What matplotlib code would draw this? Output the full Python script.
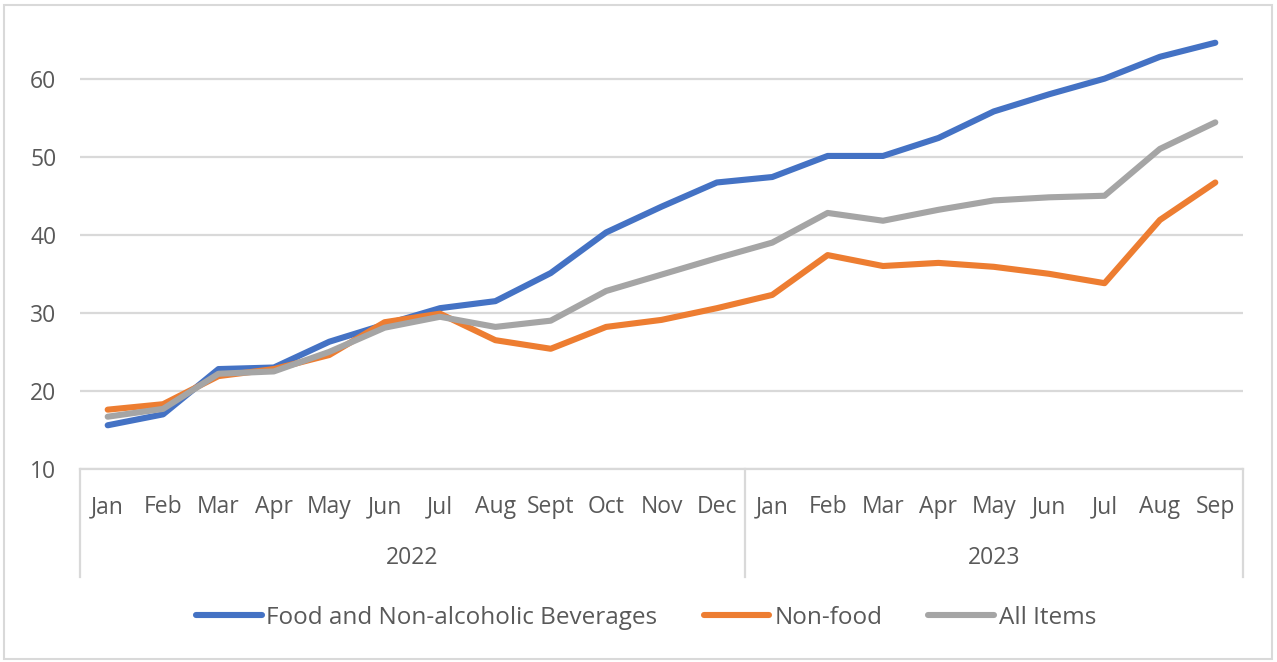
import matplotlib
matplotlib.use("Agg")
import matplotlib.pyplot as plt
import matplotlib.transforms as mtrans
from matplotlib.patches import Rectangle

# Data
months = ["Jan", "Feb", "Mar", "Apr", "May", "Jun", "Jul", "Aug", "Sept", "Oct", "Nov", "Dec",
          "Jan", "Feb", "Mar", "Apr", "May", "Jun", "Jul", "Aug", "Sep"]
years = ["2022", "2023"]
year_lengths = [12, 9]
food = [15.6, 17.0, 22.8, 23.0, 26.3, 28.5, 30.6, 31.5, 35.1, 40.3, 43.6, 46.7,
        47.4, 50.1, 50.1, 52.4, 55.8, 58.0, 60.0, 62.8, 64.6]
non_food = [17.6, 18.3, 21.9, 22.8, 24.6, 28.8, 29.9, 26.5, 25.4, 28.2, 29.1, 30.6,
            32.3, 37.4, 36.0, 36.4, 35.9, 35.0, 33.8, 41.9, 46.7]
all_items = [16.7, 17.7, 22.2, 22.5, 25.0, 28.1, 29.5, 28.2, 29.0, 32.8, 34.9, 37.0,
             39.0, 42.8, 41.8, 43.2, 44.4, 44.8, 45.0, 51.0, 54.4]
series_names = ["Food and Non-alcoholic Beverages", "Non-food", "All Items"]

colors = ["#4472C4", "#ED7D31", "#A5A5A5"]
txt = "#595959"
grid_c = "#D9D9D9"
fs = 16.5

plt.rcParams['font.family'] = ['Open Sans', 'DejaVu Sans']

W, H = 1277, 662
fig = plt.figure(figsize=(W / 100, H / 100), dpi=100)
fig.patches.append(Rectangle((4 / W, 3 / H), 1 - 9 / W, 1 - 8 / H, transform=fig.transFigure,
                             fill=False, edgecolor="#D9D9D9", linewidth=1.5))

left, right, top, bottom = 80, 1243, 24, 469
ax = fig.add_axes([left / W, 1 - bottom / H, (right - left) / W, (bottom - top) / H])

x = list(range(len(months)))
for vals, name, c in zip([food, non_food, all_items], series_names, colors):
    ax.plot(x, vals, color=c, linewidth=4.4, label=name,
            solid_capstyle="round", solid_joinstyle="round", zorder=3)

ax.set_xlim(-0.5, len(months) - 0.5)
ax.set_ylim(10, 67)
ax.set_yticks([10, 20, 30, 40, 50, 60])
ax.yaxis.grid(True, color=grid_c, linewidth=1.6)
ax.set_axisbelow(True)
for s in ["top", "right", "left"]:
    ax.spines[s].set_visible(False)
ax.spines["bottom"].set_color(grid_c)
ax.spines["bottom"].set_linewidth(1.6)
ax.tick_params(axis="y", length=0, pad=17, labelsize=fs, labelcolor=txt)
ax.set_xticks(x)
ax.set_xticklabels(months)
ax.tick_params(axis="x", length=0, pad=19, labelsize=fs, labelcolor=txt)

# two-level category axis: separators and year labels
trans = mtrans.blended_transform_factory(ax.transData, ax.transAxes)
sep_bottom = (bottom - 577) / (bottom - top)
start = -0.5
edges = [start]
for n in year_lengths:
    start += n
    edges.append(start)
for e in edges:
    ax.plot([e, e], [0, sep_bottom], transform=trans, color=grid_c, linewidth=1.6, clip_on=False)
year_y = (bottom - 558) / (bottom - top)
for yr, a, b in zip(years, edges[:-1], edges[1:]):
    ax.text((a + b) / 2, year_y, yr, transform=trans, ha="center", va="center",
            fontsize=fs, color=txt)

leg = fig.legend(loc="center", bbox_to_anchor=(0.506, 1 - 618 / H), ncol=3, frameon=False,
                 fontsize=17.5, handlelength=2.7, handletextpad=0.2, columnspacing=1.9)
for t in leg.get_texts():
    t.set_color(txt)

fig.savefig("out.png", dpi=100)
